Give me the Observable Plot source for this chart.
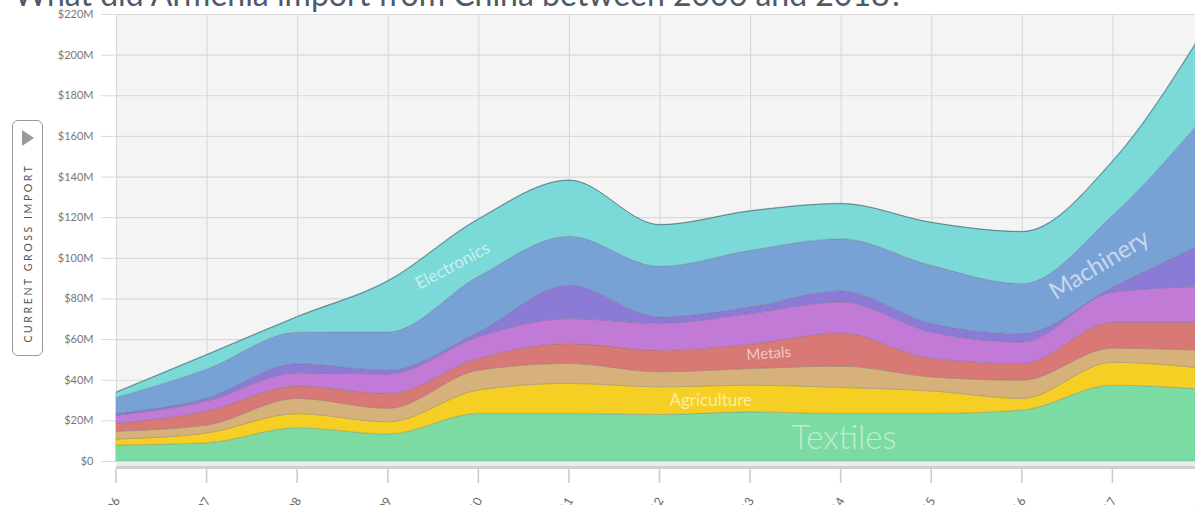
<!DOCTYPE html>
<html>
<head>
<meta charset="utf-8">
<script src="https://cdn.jsdelivr.net/npm/d3@7"></script>
<script src="https://cdn.jsdelivr.net/npm/@observablehq/plot@0.6"></script>
<style>
  html, body { margin: 0; padding: 0; background: #fff; overflow: hidden; width: 1195px; height: 505px; }
  #wrap { position: relative; width: 1195px; height: 505px; overflow: hidden; font-family: Lato, "Open Sans", sans-serif; }
  #title { position: absolute; left: 14px; top: -22px; font-size: 32px; line-height: 32px; color: #4d5b68; white-space: nowrap; font-family: Lato, "Open Sans", sans-serif; }
  #chart { position: absolute; left: 0; top: 0; }
  #btn { position: absolute; left: 12px; top: 120px; width: 31px; height: 236px; border: 1px solid #999; border-radius: 6px; box-sizing: border-box; background: #fff; }
  #btn .tri { position: absolute; left: 9px; top: 9px; width: 0; height: 0; border-top: 8px solid transparent; border-bottom: 8px solid transparent; border-left: 12px solid #999; }
  #btn .lbl { position: absolute; left: 50%; top: 132px; transform: translate(-50%, -50%) rotate(-90deg); white-space: nowrap; font-size: 10.5px; letter-spacing: 2.6px; color: #555; font-family: Lato, "Open Sans", sans-serif; }
</style>
</head>
<body>
<div id="wrap">
  <div id="chart"></div>
  <div id="title">What did Armenia import from China between 2006 and 2018?</div>
  <div id="btn"><div class="tri"></div><div class="lbl">CURRENT GROSS IMPORT</div></div>
</div>
<script>
// ---- data (US$ millions) ----
const years = [2006, 2007, 2008, 2009, 2010, 2011, 2012, 2013, 2014, 2015, 2016, 2017, 2018];
const categories = ["Textiles", "Agriculture", "Stone", "Metals", "Chemicals", "Transportation", "Machinery", "Electronics"];
const textiles       = [7.9, 9.0, 16.4, 13.3, 23.4, 23.4, 22.9, 24.2, 23.4, 23.4, 25.1, 37.3, 35.4];
const agriculture    = [2.9, 4.8, 6.9, 6.0, 11.5, 14.8, 13.6, 13.1, 12.8, 11.1, 5.7, 11.3, 10.3];
const stone          = [3.9, 3.9, 7.5, 6.6, 9.8, 9.8, 7.4, 8.2, 10.5, 6.9, 9.0, 6.9, 8.8];
const metals         = [3.8, 6.9, 6.1, 7.4, 5.8, 9.8, 10.6, 12.0, 16.3, 9.1, 8.2, 12.8, 13.8];
const chemicals      = [4.0, 4.9, 6.5, 9.5, 10.6, 12.3, 13.2, 15.1, 15.3, 13.0, 10.6, 14.7, 17.7];
const transportation = [0.9, 1.5, 4.5, 1.9, 2.4, 16.4, 3.2, 3.2, 5.4, 4.2, 4.1, 2.5, 21.0];
const machinery      = [7.9, 14.2, 15.5, 18.8, 27.4, 24.1, 24.9, 27.9, 25.7, 28.6, 24.6, 35.4, 62.0];
const electronics    = [2.8, 7.4, 7.9, 25.4, 28.5, 27.8, 20.7, 19.6, 17.5, 21.3, 25.8, 27.0, 42.8];
const yTicks = [0, 20, 40, 60, 80, 100, 120, 140, 160, 180, 200, 220];
const colors = ["#7cdba3", "#f5cf23", "#d6b27a", "#d87975", "#c27ad7", "#8b7bd6", "#78a1d6", "#7bdad8"];

// label anchors in data space: [name, year, value]
const labelNames  = ["Electronics", "Machinery", "Metals", "Agriculture", "Textiles"];
const labelYears  = [2009.71, 2016.85, 2013.2, 2012.56, 2014.03];
const labelValues = [96.3, 96.8, 53.1, 30.0, 11.3];

// ---- build ----
const seriesList = [textiles, agriculture, stone, metals, chemicals, transportation, machinery, electronics];
const rows = [];
categories.forEach((c, i) => years.forEach((y, j) => rows.push({year: y, category: c, value: seriesList[i][j]})));
const totals = years.map((y, j) => ({year: y, value: d3.sum(seriesList, s => s[j])}));
const labels = labelNames.map((n, i) => ({name: n, year: labelYears[i], value: labelValues[i]}));
const lab = n => labels.filter(d => d.name === n);

const W = 1195, H = 520;
const chart = Plot.plot({
  width: W,
  height: H,
  marginLeft: 116,
  marginRight: -8,
  marginTop: 14,
  marginBottom: H - 466,
  style: {fontFamily: "Lato, 'Open Sans', sans-serif", overflow: "visible"},
  x: {domain: [2006, 2018], range: [116, 1203], axis: null},
  y: {domain: [0, 220], range: [461, 14]},
  color: {domain: categories, range: colors},
  marks: [
    Plot.frame({fill: "#f4f4f4", stroke: null}),
    Plot.gridY(yTicks, {stroke: "#d9d9d9", strokeOpacity: 1, strokeWidth: 1.2}),
    Plot.gridX(years, {stroke: "#d9d9d9", strokeOpacity: 1, strokeWidth: 1.2}),
    Plot.axisY(yTicks, {tickSize: 15, tickPadding: 8, stroke: "#d9d9d9", fill: "#777", fontSize: 11, label: null,
      tickFormat: d => d === 0 ? "$0" : `$${d}M`}),
    Plot.areaY(rows, {x: "year", y: "value", fill: "category", z: "category", curve: "monotone-x",
      stroke: "#5a5a6a", strokeOpacity: 0.3, strokeWidth: 0.8}),
    Plot.lineY(totals, {x: "year", y: "value", curve: "monotone-x", stroke: "#3f4d5a", strokeOpacity: 0.55, strokeWidth: 1}),
    Plot.ruleY([0], {stroke: "#ececec", strokeWidth: 5, dy: 2.5}),
    Plot.ruleY([0], {stroke: "#cfcfcf", strokeWidth: 3, dy: 6}),
    Plot.text(years, {x: d => d, frameAnchor: "bottom", text: d => String(d), rotate: -60, textAnchor: "end",
      fontSize: 12, fill: "#666", dy: 34, dx: 4}),
    Plot.text(lab("Electronics"), {x: "year", y: "value", text: "name", rotate: -28, fontSize: 17, fill: "white", fillOpacity: 0.6}),
    Plot.text(lab("Machinery"), {x: "year", y: "value", text: "name", rotate: -31, fontSize: 24, fill: "white", fillOpacity: 0.6}),
    Plot.text(lab("Metals"), {x: "year", y: "value", text: "name", rotate: -4, fontSize: 15, fill: "white", fillOpacity: 0.6}),
    Plot.text(lab("Agriculture"), {x: "year", y: "value", text: "name", fontSize: 17, fill: "white", fillOpacity: 0.6}),
    Plot.text(lab("Textiles"), {x: "year", y: "value", text: "name", fontSize: 33, fontWeight: 300, fill: "white", fillOpacity: 0.5})
  ]
});
// x tick marks below the baseline, positioned through Plot's own x scale
const xs = chart.scale("x");
const y0 = chart.scale("y").apply(0);
d3.select(chart).append("g").attr("aria-label", "x-ticks")
  .selectAll("line").data(years).join("line")
  .attr("x1", d => xs.apply(d)).attr("x2", d => xs.apply(d))
  .attr("y1", y0 + 7.5).attr("y2", y0 + 22)
  .attr("stroke", "#cccccc").attr("stroke-width", 1.6);
document.getElementById("chart").appendChild(chart);
</script>
</body>
</html>
